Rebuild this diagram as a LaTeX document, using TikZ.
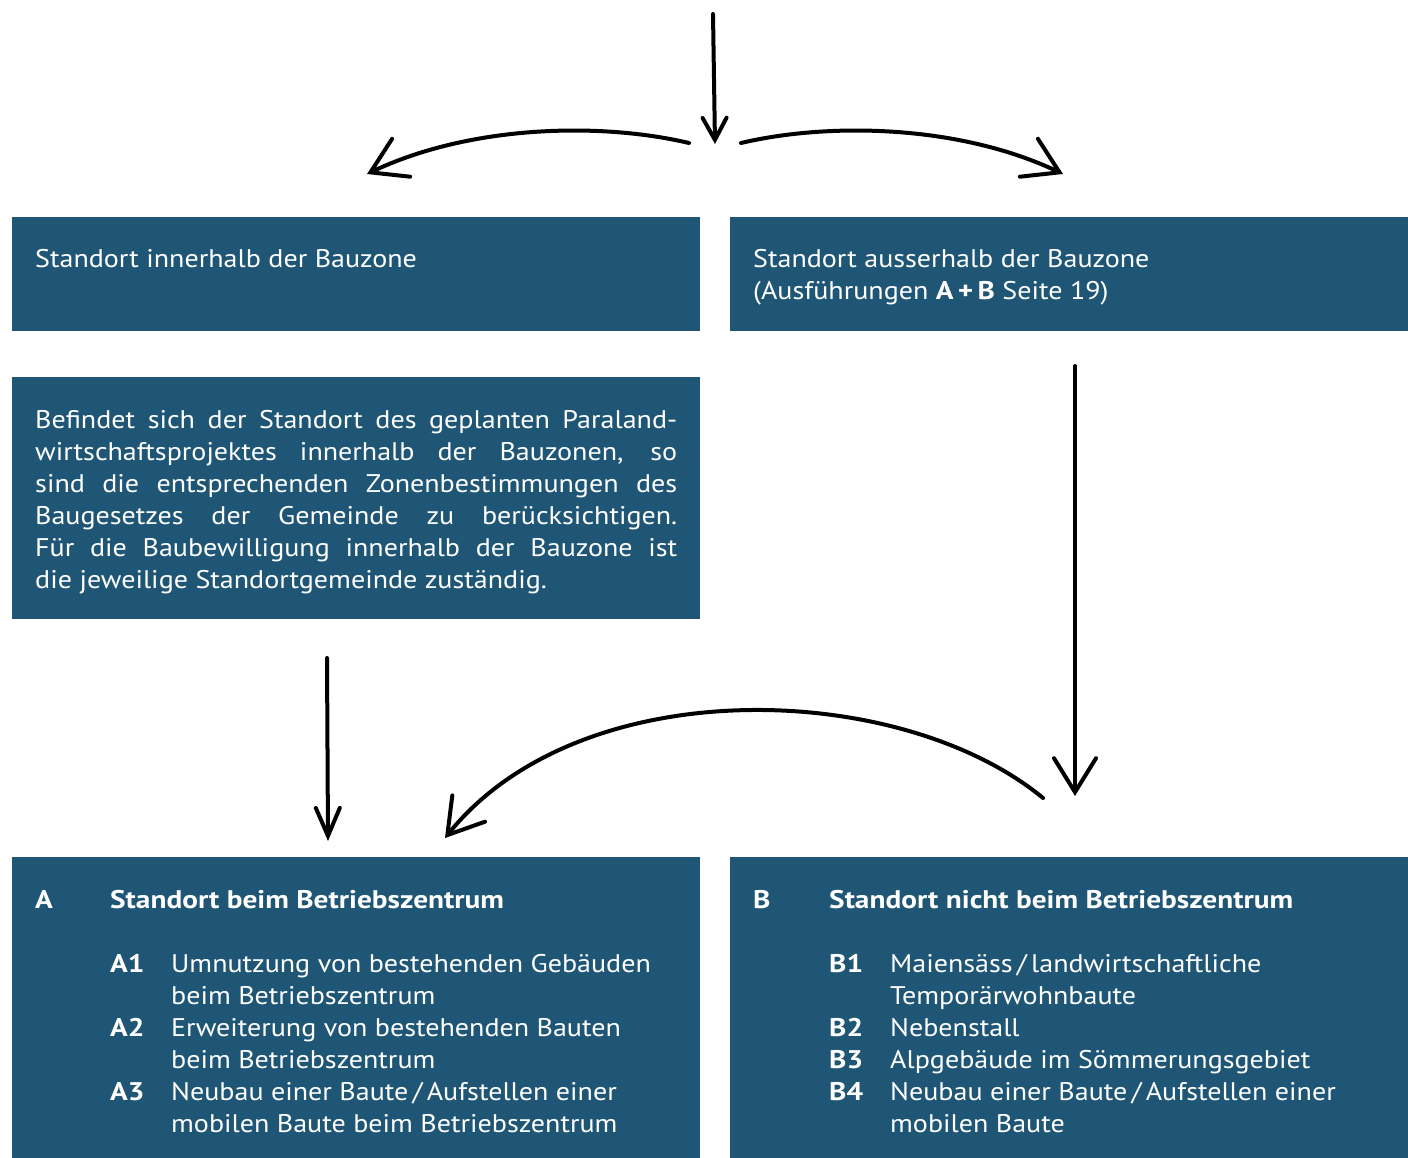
\documentclass[tikz,border=0pt]{standalone}
\usepackage{fontspec}
\setmainfont{PT Sans}[FakeStretch=1.1,BoldFeatures={FakeStretch=1.15}]
\usetikzlibrary{arrows.meta}
\definecolor{boxblue}{RGB}{31,86,117}
\begin{document}
\begin{tikzpicture}[x=1pt,y=-1pt,
  box/.style={fill=boxblue,draw=none,inner sep=0,anchor=north west},
  txt/.style={text=white,inner sep=0,anchor=base west,font=\fontsize{25.5}{32}\selectfont},
  boldtxt/.style={txt,font=\fontsize{25.5}{32}\selectfont\bfseries},
  flow/.style={line width=4pt,line cap=round,line join=round},
  smallhead/.style={-{Straight Barb[length=22pt,width=24pt,line cap=round]}},
  bighead/.style={-{Straight Barb[length=34pt,width=42pt,line cap=round]}},
  midhead/.style={-{Straight Barb[length=28pt,width=24pt,line cap=round]}}]
\useasboundingbox (0,0) rectangle (1408,1158);

% boxes
\node[box,minimum width=688pt,minimum height=114pt] (inner) at (12,217) {};
\node[box,minimum width=678pt,minimum height=114pt] (outer) at (730,217) {};
\node[box,minimum width=688pt,minimum height=242pt] (note) at (12,377) {};
\node[box,minimum width=688pt,minimum height=301pt] (boxA) at (12,857) {};
\node[box,minimum width=678pt,minimum height=301pt] (boxB) at (730,857) {};

% box texts
\node[txt] (innerT) at (35,268) {Standort innerhalb der Bauzone};
\node[txt] (outerT) at (753,268) {\begin{tabular}[t]{@{}l@{}}
  Standort ausserhalb der Bauzone\\
  (Ausführungen \textbf{A\,+\,B} Seite 19)
  \end{tabular}};
\node[txt,text width=642pt,align=justify] (noteT) at (35,428)
  {Befindet sich der Standort des geplanten Paraland-\linebreak
   wirtschaftsprojektes innerhalb der Bauzonen, so\linebreak
   sind die entsprechenden Zonenbestimmungen des\linebreak
   Baugesetzes der Gemeinde zu berücksichtigen.\linebreak
   Für die Baubewilligung innerhalb der Bauzone ist\linebreak
   die jeweilige Standortgemeinde zuständig.};

\node[boldtxt] (Alet) at (35,908) {A};
\node[boldtxt] (Ahead) at (110,908) {Standort beim Betriebszentrum};
\node[txt] (Alist) at (110,972) {\begin{tabular}[t]{@{}p{61pt}@{}l@{}}
  \textbf{A1} & Umnutzung von bestehenden Gebäuden\\
              & beim Betriebszentrum\\
  \textbf{A2} & Erweiterung von bestehenden Bauten\\
              & beim Betriebszentrum\\
  \textbf{A3} & Neubau einer Baute\,/\,Aufstellen einer\\
              & mobilen Baute beim Betriebszentrum
  \end{tabular}};

\node[boldtxt] (Blet) at (753,908) {B};
\node[boldtxt] (Bhead) at (829,908) {Standort nicht beim Betriebszentrum};
\node[txt] (Blist) at (829,972) {\begin{tabular}[t]{@{}p{61pt}@{}l@{}}
  \textbf{B1} & Maiensäss\,/\,landwirtschaftliche\\
              & Temporärwohnbaute\\
  \textbf{B2} & Nebenstall\\
  \textbf{B3} & Alpgebäude im Sömmerungsgebiet\\
  \textbf{B4} & Neubau einer Baute\,/\,Aufstellen einer\\
              & mobilen Baute
  \end{tabular}};

% connector end points
\coordinate (topS) at (713,14);
\coordinate (topE) at (715,144);
\coordinate (lcS) at (689,143);
\coordinate (lcE) at (367,174);
\coordinate (rcS) at (741,143);
\coordinate (rcE) at (1063,174);
\coordinate (rvS) at (1075,366);
\coordinate (rvE) at (1075,796);
\coordinate (lvS) at (327,658);
\coordinate (lvE) at (328,841);
\coordinate (bcS) at (1043,798);
\coordinate (bcE) at (445,838);

% connectors
\draw[flow,smallhead] (topS) -- (topE);
\draw[flow,bighead] (lcS) .. controls (600,122) and (470,125) .. (lcE);
\draw[flow,bighead] (rcS) .. controls (830,122) and (960,125) .. (rcE);
\draw[flow,bighead] (rvS) -- (rvE);
\draw[flow,midhead] (lvS) -- (lvE);
\draw[flow,bighead] (bcS) .. controls (900,680) and (580,670) .. (bcE);
\end{tikzpicture}
\end{document}
